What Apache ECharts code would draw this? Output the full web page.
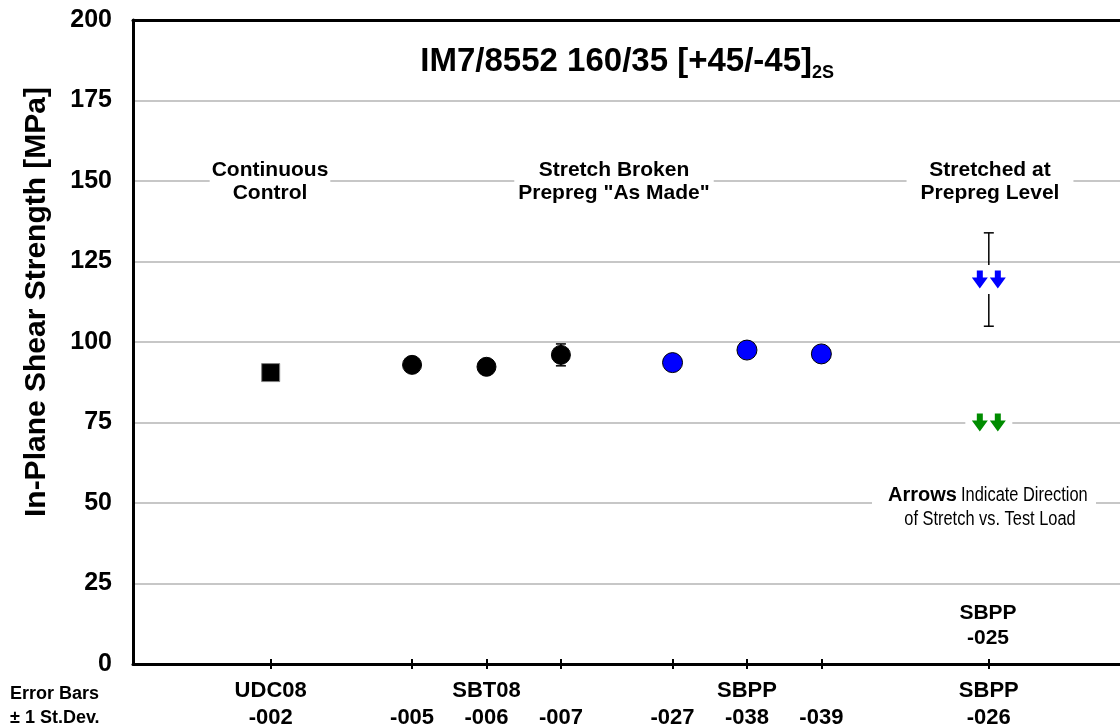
<!DOCTYPE html>
<html>
<head>
<meta charset="utf-8">
<script src="https://cdn.jsdelivr.net/npm/echarts@6/dist/echarts.min.js"></script>
<style>
html,body{margin:0;padding:0;background:#fff;}
#chart{width:1120px;height:727px;}
</style>
</head>
<body>
<div id="chart"></div>
<script>
// ---------- data ----------
const sampleCodes = ['-002', '-005', '-006', '-007', '-027', '-038', '-039', '-026'];
const groupLabels = ['UDC08', '', 'SBT08', '', '', 'SBPP', '', 'SBPP'];
const xPos = [1.85, 3.75, 4.75, 5.75, 7.25, 8.25, 9.25, 11.5];
const yTicks = [0, 25, 50, 75, 100, 125, 150, 175, 200];

const controlX = [1.85];
const controlVals = [90.5];
const controlSD = [0.5];

const sbtX = [3.75, 4.75, 5.75];
const sbtVals = [92.9, 92.3, 96.0];
const sbtSD = [1.0, 1.0, 3.4];

const sbppX = [7.25, 8.25, 9.25];
const sbppVals = [93.6, 97.5, 96.3];
const sbppSD = [0.8, 0.8, 0.8];

const stretchedX = [11.5];
const stretched026Vals = [119.4];
const stretched026SD = [14.5];
const stretched025Vals = [75.0];

// ---------- helpers ----------
function pts(xs, ys) { return xs.map((x, i) => [x, ys[i]]); }
function bars(xs, ys, sd) { return xs.map((x, i) => [x, ys[i] - sd[i], ys[i] + sd[i]]); }

const arrowPath = 'path://M5 0 H11 V7 H16 L8 18 L0 7 H5 Z M23 0 H29 V7 H34 L26 18 L18 7 H23 Z';
const FONT = "'Liberation Sans', Arial, sans-serif";

function errRender(params, api) {
  const x = api.value(0), lo = api.value(1), hi = api.value(2);
  const p1 = api.coord([x, hi]);
  const p2 = api.coord([x, lo]);
  const w = 5;
  const st = { stroke: '#000', lineWidth: 1.5 };
  return {
    type: 'group',
    children: [
      { type: 'line', shape: { x1: p1[0], y1: p1[1], x2: p2[0], y2: p2[1] }, style: st },
      { type: 'line', shape: { x1: p1[0] - w, y1: p1[1], x2: p1[0] + w, y2: p1[1] }, style: st },
      { type: 'line', shape: { x1: p2[0] - w, y1: p2[1], x2: p2[0] + w, y2: p2[1] }, style: st }
    ]
  };
}

function xLabel(v) {
  for (let i = 0; i < xPos.length; i++) {
    if (Math.abs(xPos[i] - v) < 1e-6) return groupLabels[i] + '\n' + sampleCodes[i];
  }
  return '';
}

const chart = echarts.init(document.getElementById('chart'), null, { renderer: 'canvas' });

const option = {
  backgroundColor: '#fff',
  animation: false,
  grid: { left: 133, top: 20, width: 992, height: 644, show: false, outerBoundsMode: 'none', containLabel: false },
  xAxis: [
    {
      type: 'value', min: 0, max: 13.33,
      splitLine: { show: false },
      axisLine: { show: true, lineStyle: { color: '#000', width: 3 } },
      axisTick: { show: true, customValues: xPos, length: 5, lineStyle: { color: '#000', width: 2 } },
      axisLabel: {
        show: true, customValues: xPos, formatter: xLabel,
        color: '#000', fontFamily: FONT, fontWeight: 'bold', fontSize: 22, lineHeight: 27, margin: 13
      }
    },
    {
      type: 'value', min: 0, max: 13.33, position: 'bottom',
      splitLine: { show: false },
      axisLine: { show: false },
      axisTick: { show: true, inside: true, customValues: xPos, length: 5, lineStyle: { color: '#000', width: 2 } },
      axisLabel: { show: false }
    },
    {
      type: 'value', min: 0, max: 13.33, position: 'top', z: 5,
      splitLine: { show: false },
      axisLine: { show: true, lineStyle: { color: '#000', width: 3 } },
      axisTick: { show: false },
      axisLabel: { show: false }
    }
  ],
  yAxis: {
    type: 'value', min: 0, max: 200, interval: 25,
    axisLine: { show: true, lineStyle: { color: '#000', width: 3 } },
    axisTick: { show: false },
    splitLine: { show: true, lineStyle: { color: '#b4b4b4', width: 1.5 } },
    axisLabel: {
      color: '#000', fontFamily: FONT, fontWeight: 'bold', fontSize: 25, margin: 21,
      customValues: yTicks
    }
  },
  series: [
    {
      type: 'custom', name: 'err', renderItem: errRender, z: 2,
      encode: { x: 0, y: [1, 2] },
      data: [].concat(
        bars(controlX, controlVals, controlSD),
        bars(sbtX, sbtVals, sbtSD),
        bars(sbppX, sbppVals, sbppSD),
        bars(stretchedX, stretched026Vals, stretched026SD)
      )
    },
    {
      type: 'scatter', name: 'UDC08', symbol: 'rect', symbolSize: 18, z: 3,
      itemStyle: { color: '#000', borderColor: '#808080', borderWidth: 1, opacity: 1 },
      data: pts(controlX, controlVals)
    },
    {
      type: 'scatter', name: 'SBT08', symbol: 'circle', symbolSize: 19, z: 3,
      itemStyle: { color: '#000', borderColor: '#000', borderWidth: 1, opacity: 1 },
      data: pts(sbtX, sbtVals)
    },
    {
      type: 'scatter', name: 'SBPP', symbol: 'circle', symbolSize: 20, z: 3,
      itemStyle: { color: '#0000ff', borderColor: '#000', borderWidth: 1, opacity: 1 },
      data: pts(sbppX, sbppVals)
    },
    {
      type: 'scatter', name: 'bg026', symbol: 'rect', symbolSize: [46, 29], z: 4, silent: true,
      itemStyle: { color: '#fff', opacity: 1 },
      data: pts(stretchedX, stretched026Vals)
    },
    {
      type: 'scatter', name: 'bg025', symbol: 'rect', symbolSize: [47, 30], z: 4, silent: true,
      itemStyle: { color: '#fff', opacity: 1 },
      data: pts(stretchedX, stretched025Vals)
    },
    {
      type: 'scatter', name: 'SBPP-026', symbol: arrowPath, symbolSize: [34, 18], z: 5,
      itemStyle: { color: '#0000ff', opacity: 1 },
      data: pts(stretchedX, stretched026Vals)
    },
    {
      type: 'scatter', name: 'SBPP-025', symbol: arrowPath, symbolSize: [34, 18], z: 5,
      itemStyle: { color: '#008c00', opacity: 1 },
      data: pts(stretchedX, stretched025Vals)
    }
  ],
  graphic: {
    elements: [
      {
        type: 'text', right: 1120 - 812, top: 45, z: 100,
        style: { text: 'IM7/8552 160/35 [+45/-45]', font: "bold 33px " + FONT, fill: '#000' }
      },
      {
        type: 'text', left: 812, top: 64, z: 100,
        style: { text: '2S', font: "bold 18px " + FONT, fill: '#000' }
      },
      {
        type: 'text', x: 37, y: 302, rotation: Math.PI / 2, z: 100,
        style: { text: 'In-Plane Shear Strength [MPa]', font: "bold 30px " + FONT, fill: '#000', align: 'center', verticalAlign: 'middle' }
      },
      {
        type: 'text', x: 270, y: 182, z: 100,
        style: {
          text: 'Continuous\nControl', font: "bold 21px " + FONT, fill: '#000', align: 'center', verticalAlign: 'middle',
          lineHeight: 23, backgroundColor: '#fff', padding: [0, 2]
        }
      },
      {
        type: 'text', x: 614, y: 182, z: 100,
        style: {
          text: 'Stretch Broken\nPrepreg "As Made"', font: "bold 21px " + FONT, fill: '#000', align: 'center', verticalAlign: 'middle',
          lineHeight: 23, backgroundColor: '#fff', padding: [0, 4]
        }
      },
      {
        type: 'text', x: 990, y: 182, z: 100,
        style: {
          text: 'Stretched at\nPrepreg Level', font: "bold 21px " + FONT, fill: '#000', align: 'center', verticalAlign: 'middle',
          lineHeight: 23, backgroundColor: '#fff', padding: [0, 14]
        }
      },
      {
        type: 'rect', shape: { x: 872, y: 482, width: 224, height: 48 }, z: 99,
        style: { fill: '#fff' }
      },
      {
        type: 'text', x: 888, y: 495, z: 100,
        style: { text: 'Arrows', font: "bold 20px " + FONT, fill: '#000', align: 'left', verticalAlign: 'middle' }
      },
      {
        type: 'text', x: 961, y: 495, scaleX: 0.82, z: 100,
        style: { text: 'Indicate Direction', font: "20px " + FONT, fill: '#000', align: 'left', verticalAlign: 'middle' }
      },
      {
        type: 'text', x: 990, y: 519, scaleX: 0.82, z: 100,
        style: { text: 'of Stretch vs. Test Load', font: "20px " + FONT, fill: '#000', align: 'center', verticalAlign: 'middle' }
      },
      {
        type: 'text', x: 988, y: 626, z: 100,
        style: {
          text: 'SBPP\n-025', font: "bold 21px " + FONT, fill: '#000', align: 'center', verticalAlign: 'middle',
          lineHeight: 25
        }
      },
      {
        type: 'text', left: 10, top: 682, z: 100,
        style: {
          text: 'Error Bars\n\u00b1 1 St.Dev.', font: "bold 18px " + FONT, fill: '#000', lineHeight: 24
        }
      }
    ]
  }
};

chart.setOption(option);
</script>
</body>
</html>
